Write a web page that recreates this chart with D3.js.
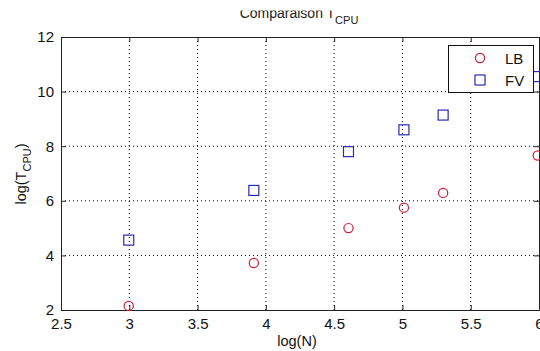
<!DOCTYPE html>
<html><head><meta charset="utf-8">
<script src="https://cdn.jsdelivr.net/npm/d3@7"></script>
<style>
body{margin:0;background:#fff;}
svg{display:block;font-family:"Liberation Sans",Arial,sans-serif;}
</style></head>
<body><svg id="c" width="540" height="351"></svg>
<script>
const logN = [2.996, 3.912, 4.605, 5.011, 5.298, 5.991];
const lbValues = [2.15, 3.72, 5.0, 5.75, 6.29, 7.66];
const fvValues = [4.56, 6.38, 7.8, 8.6, 9.14, 10.55];
const xTicks = [2.5, 3, 3.5, 4, 4.5, 5, 5.5, 6];
const yTicks = [2, 4, 6, 8, 10, 12];
const seriesNames = ["LB", "FV"];

const svg = d3.select("#c");
const L = 61, R = 539, T = 37, B = 310;
const x = d3.scaleLinear().domain([2.5, 6]).range([L, R]);
const y = d3.scaleLinear().domain([2, 12]).range([B, T]);

// grid
const grid = svg.append("g");
grid.selectAll(".gx").data(xTicks.slice(1, -1)).join("line")
  .attr("x1", d => x(d)).attr("x2", d => x(d)).attr("y1", T).attr("y2", B)
  .attr("stroke", "#000").attr("stroke-width", 1).attr("stroke-dasharray", "1,3");
grid.selectAll(".gy").data(yTicks.slice(1, -1)).join("line")
  .attr("x1", L).attr("x2", R).attr("y1", d => y(d)).attr("y2", d => y(d))
  .attr("stroke", "#000").attr("stroke-width", 1).attr("stroke-dasharray", "1,3");

// axes
const fmt = d3.format("");
const ax = svg.append("g").attr("transform", `translate(0,${B})`)
  .call(d3.axisBottom(x).tickValues(xTicks).tickFormat(fmt).tickSizeInner(-5).tickSizeOuter(0).tickPadding(8));
const axTop = svg.append("g").attr("transform", `translate(0,${T})`)
  .call(d3.axisTop(x).tickValues(xTicks).tickFormat("").tickSizeInner(-5).tickSizeOuter(0));
const ay = svg.append("g").attr("transform", `translate(${L},0)`)
  .call(d3.axisLeft(y).tickValues(yTicks).tickFormat(fmt).tickSizeInner(-5).tickSizeOuter(0).tickPadding(7));
const ayR = svg.append("g").attr("transform", `translate(${R},0)`)
  .call(d3.axisRight(y).tickValues(yTicks).tickFormat("").tickSizeInner(-5).tickSizeOuter(0));
[ax, axTop, ay, ayR].forEach(g => {
  g.select(".domain").attr("stroke", "#222");
  g.selectAll(".tick line").attr("stroke", "#222");
  g.selectAll("text").attr("font-size", 15).attr("fill", "#111")
    .attr("font-family", "'Liberation Sans',Arial,sans-serif");
});

// markers
const marks = svg.append("g");
marks.selectAll("circle").data(logN.map((v, i) => [v, lbValues[i]])).join("circle")
  .attr("cx", d => x(d[0])).attr("cy", d => y(d[1])).attr("r", 4.6)
  .attr("fill", "none").attr("stroke", "#d41a35").attr("stroke-width", 1.2);
marks.selectAll("rect").data(logN.map((v, i) => [v, fvValues[i]])).join("rect")
  .attr("x", d => x(d[0]) - 5).attr("y", d => y(d[1]) - 5).attr("width", 10).attr("height", 10)
  .attr("fill", "none").attr("stroke", "#2a2ab5").attr("stroke-width", 1.2);

// legend
const lg = svg.append("g");
lg.append("rect").attr("x", 448.5).attr("y", 45.5).attr("width", 85).attr("height", 47)
  .attr("fill", "#fff").attr("stroke", "#111").attr("stroke-width", 1);
lg.append("circle").attr("cx", 480).attr("cy", 58).attr("r", 4.6)
  .attr("fill", "none").attr("stroke", "#d41a35").attr("stroke-width", 1.2);
lg.append("rect").attr("x", 475).attr("y", 75).attr("width", 10).attr("height", 10)
  .attr("fill", "none").attr("stroke", "#2a2ab5").attr("stroke-width", 1.2);
lg.selectAll("text").data(seriesNames).join("text")
  .attr("x", 505).attr("y", (d, i) => 64 + i * 22).attr("font-size", 15).attr("fill", "#111")
  .text(d => d);

// title (top clipped as in reference)
svg.append("clipPath").attr("id", "tc").append("rect").attr("x", 0).attr("y", 10.5).attr("width", 540).attr("height", 30);
const title = svg.append("text").attr("clip-path", "url(#tc)")
  .attr("x", 299).attr("y", 17.5).attr("text-anchor", "middle").attr("font-size", 14).attr("fill", "#222");
title.append("tspan").text("Comparaison T");
title.append("tspan").attr("dy", 6.5).attr("font-size", 11).text("CPU");

// axis labels
svg.append("text").attr("x", 297).attr("y", 346).attr("text-anchor", "middle")
  .attr("font-size", 14.5).attr("fill", "#111").text("log(N)");
const yl = svg.append("text").attr("transform", "translate(26,174) rotate(-90)")
  .attr("text-anchor", "middle").attr("font-size", 14.5).attr("fill", "#111");
yl.append("tspan").text("log(T");
yl.append("tspan").attr("dy", 5).attr("font-size", 11).text("CPU");
yl.append("tspan").attr("dy", -5).text(")");
</script></body></html>
